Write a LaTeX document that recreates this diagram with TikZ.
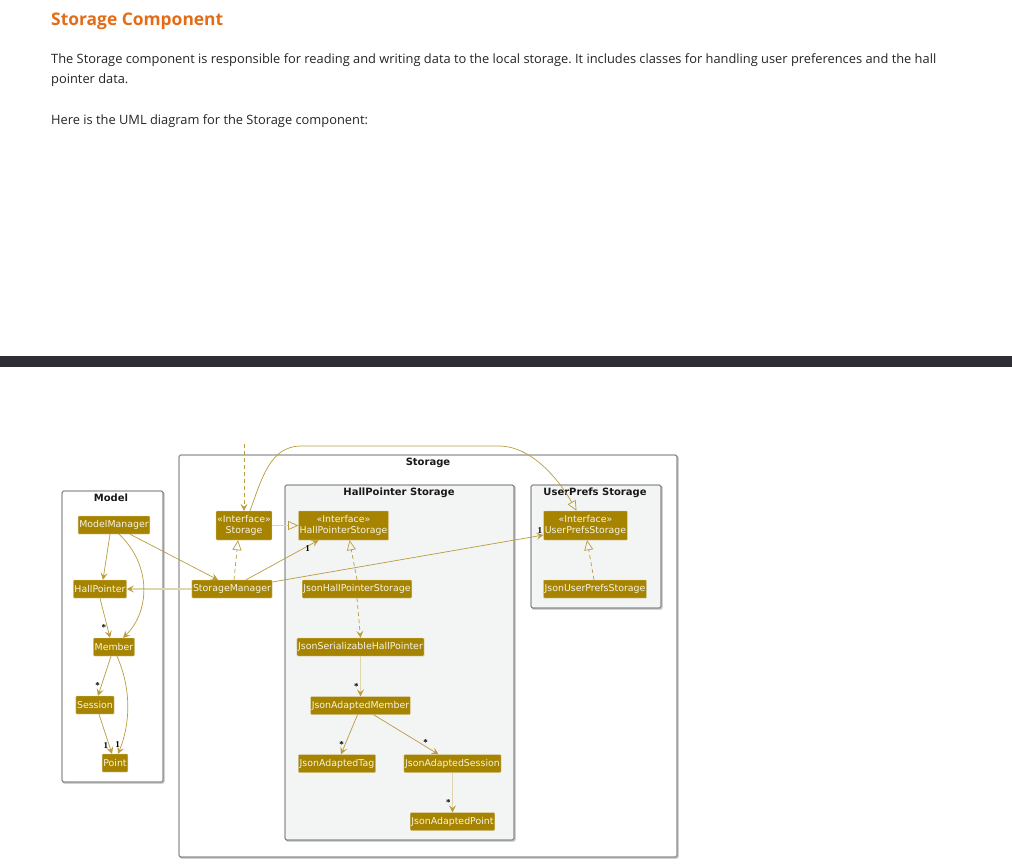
\documentclass[tikz,border=0pt]{standalone}
\usepackage{fontspec}
\setmainfont{Open Sans}
\newfontfamily\umlfont{DejaVu Sans}
\newfontfamily\labfont{Liberation Serif}
\usetikzlibrary{arrows.meta}
\frenchspacing

\definecolor{headorange}{RGB}{228,108,22}
\definecolor{bodytext}{RGB}{36,36,36}
\definecolor{barcol}{RGB}{45,45,51}
\definecolor{umlgold}{RGB}{166,132,0}
\definecolor{umlline}{RGB}{186,156,62}
\definecolor{umlpale}{RGB}{224,213,172}
\definecolor{pkgfill}{RGB}{243,244,244}
\definecolor{pkgline}{RGB}{56,56,56}
\definecolor{pkgshadow}{RGB}{188,188,188}

\begin{document}
\begin{tikzpicture}[x=1pt,y=-1pt,
  body/.style={anchor=base west, inner sep=0, text=bodytext, font=\fontsize{12.85}{16}\selectfont},
  cls/.style={fill=umlgold, draw=umlpale, line width=0.4, rounded corners=0.8,
    text=white!90!umlgold, font=\umlfont\fontsize{9.4}{11}\selectfont,
    inner xsep=1.2, inner ysep=0, minimum height=18},
  iface/.style={cls, align=center, minimum height=29},
  pkg/.style={draw=pkgline, line width=0.6, rounded corners=1.5},
  shadow/.style={draw=pkgshadow, line width=1.4, rounded corners=1.5},
  pkgtitle/.style={font=\umlfont\bfseries\fontsize{10}{11}\selectfont, text=black!90},
  lab/.style={font=\labfont\bfseries\fontsize{9}{10}\selectfont, text=black, inner sep=1},
  rel/.style={draw=umlline, line width=0.7},
  pale/.style={draw=umlpale, line width=1.8},
  assoc/.style={rel, -{Stealth[length=7,width=7,inset=3]}},
  paleassoc/.style={pale, -{Stealth[length=7,width=7,inset=3,color=umlline,line width=0.7]}},
  realize/.style={rel, -{Triangle[open,length=10,width=9]}},
  dashline/.style={dash pattern=on 4 off 3}
]
\useasboundingbox (0,0) rectangle (1012,865);

% page text
\node[anchor=base west, inner sep=0, text=headorange, font=\bfseries\fontsize{17.4}{21}\selectfont] (title) at (51,25) {Storage Component};
\node[body] (para1) at (51,63) {The Storage component is responsible for reading and writing data to the local storage. It includes classes for handling user preferences and the hall};
\node[body] (para2) at (51,83) {pointer data.};
\node[body] (para3) at (51,124) {Here is the UML diagram for the Storage component:};

\fill[barcol] (0,356) rectangle (1012,367);

% packages
\draw[shadow] (63,492) rectangle (164,783);
\draw[pkg, fill=white] (62,491) rectangle (163,782);
\node[pkgtitle] (modeltitle) at (111,498) {Model};

\draw[shadow] (180,456) rectangle (678,858);
\draw[pkg, fill=white] (179,455) rectangle (677,857);
\node[pkgtitle] (storagetitle) at (428,463) {Storage};

\draw[shadow] (286,486) rectangle (515,841);
\draw[pkg, fill=pkgfill] (285,485) rectangle (514,840);
\node[pkgtitle] (hptitle) at (399,493) {HallPointer Storage};

\draw[shadow] (532,486) rectangle (662,609);
\draw[pkg, fill=pkgfill] (531,485) rectangle (661,608);
\node[pkgtitle] (uptitle) at (595,493) {UserPrefs Storage};

% classes
\node[cls] (mm) at (114,525) {ModelManager};
\node[cls] (hp) at (100,589) {HallPointer};
\node[cls] (mem) at (114,647) {Member};
\node[cls] (ses) at (95,705) {Session};
\node[cls] (pt) at (115,763) {Point};

\node[iface] (si) at (244,525.5) {«Interface»\\Storage};
\node[cls] (sm) at (232,589) {StorageManager};

\node[iface] (hps) at (343.5,525.5) {«Interface»\\HallPointerStorage};
\node[cls] (jhps) at (357,589) {JsonHallPointerStorage};
\node[cls] (jshp) at (360.5,647) {JsonSerializableHallPointer};
\node[cls] (jam) at (360.5,705.5) {JsonAdaptedMember};
\node[cls] (jat) at (337,763.5) {JsonAdaptedTag};
\node[cls] (jas) at (452.5,763.5) {JsonAdaptedSession};
\node[cls] (jap) at (452.5,821.5) {JsonAdaptedPoint};

\node[iface] (ups) at (585.5,525.5) {«Interface»\\UserPrefsStorage};
\node[cls] (jups) at (595,589) {JsonUserPrefsStorage};

\coordinate (top) at (244,444);

% relations
\draw[assoc, dashline] (top) -- (si.north);
\draw[pale, -{Triangle[open,length=10,width=9,color=umlline,line width=0.7]}] (si.east) -- (hps.west);
\draw[realize] ([xshift=6]si.north) .. controls (262,478) and (270,447) .. (300,446) -- (500,446) .. controls (535,447) and (562,485) .. ([xshift=-9]ups.north);
\draw[realize, dashline] ([xshift=2]sm.north) -- ([xshift=-6]si.south);
\draw[assoc] ([xshift=16]mm.south) -- ([xshift=-14]sm.north);
\draw[paleassoc] (sm.west) -- (hp.east);
\draw[assoc] ([xshift=14]sm.north) -- ([xshift=-25]hps.south) node[lab, pos=0.9, below left] {1};
\draw[assoc] ([yshift=7]sm.east) -- ([yshift=-9.5]ups.west) node[lab, pos=1, above left] {1};

\draw[assoc] ([xshift=-4]mm.south) -- ([xshift=3]hp.north);
\draw[assoc] ([xshift=5]mm.south) .. controls (152,565) and (150,612) .. ([xshift=9]mem.north);
\draw[assoc] (hp.south) -- ([xshift=-4]mem.north) node[lab, pos=0.75, left] {*};
\draw[assoc] ([xshift=-3]mem.south) -- ([xshift=3]ses.north) node[lab, pos=0.75, left] {*};
\draw[assoc] ([xshift=4]ses.south) -- ([xshift=-3]pt.north) node[lab, pos=0.8, left] {1};
\draw[assoc] ([xshift=3]mem.south) .. controls (132,690) and (130,725) .. ([xshift=3]pt.north) node[lab, pos=0.9, left] {1};

\draw[realize, dashline] (jhps.north) -- ([xshift=6]hps.south);
\draw[assoc, dashline] (jhps.south) -- (jshp.north);
\draw[paleassoc] (jshp) -- (jam) node[lab, pos=0.75, left] {*};
\draw[assoc] ([xshift=-3]jam.south) -- ([xshift=4]jat.north) node[lab, pos=0.75, left] {*};
\draw[assoc] ([xshift=13]jam.south) -- ([xshift=-14]jas.north) node[lab, pos=0.8, above] {*};
\draw[paleassoc] (jas) -- (jap) node[lab, pos=0.75, left] {*};
\draw[realize, dashline] ([xshift=-1]jups.north) -- ([xshift=1.5]ups.south);

\end{tikzpicture}
\end{document}
